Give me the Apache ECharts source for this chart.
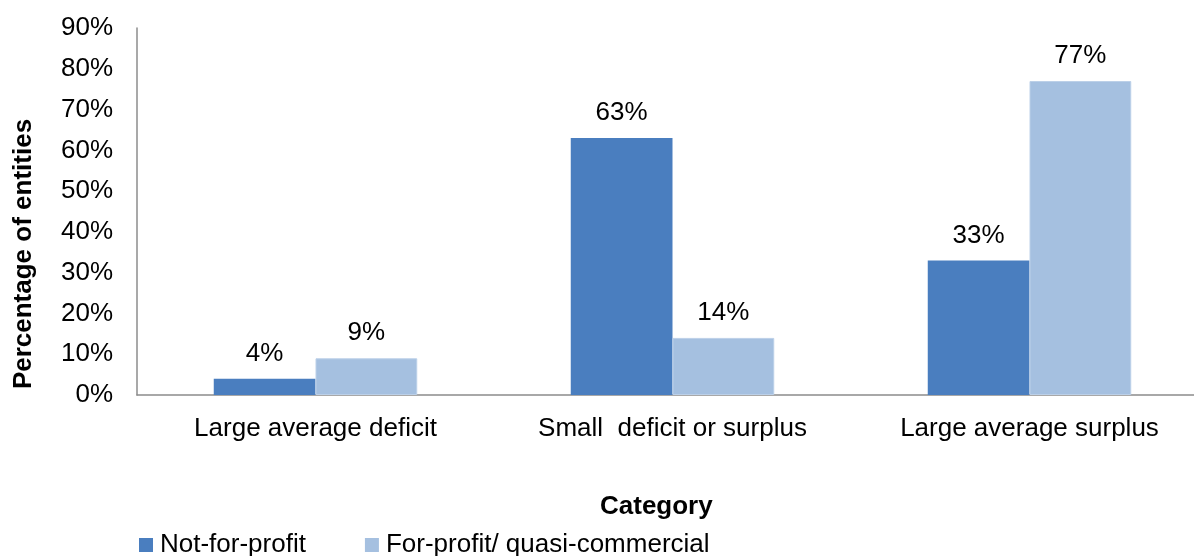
<!DOCTYPE html>
<html>
<head>
<meta charset="utf-8">
<script src="https://cdn.jsdelivr.net/npm/echarts@6/dist/echarts.min.js"></script>
<style>
  html, body { margin: 0; padding: 0; background: #ffffff; }
  #chart { width: 1194px; height: 556px; }
</style>
</head>
<body>
<div id="chart"></div>
<script>
// Share of entities by category of average result
const categories = ['Large average deficit', 'Small  deficit or surplus', 'Large average surplus'];
const notForProfit = [4, 63, 33];
const forProfit = [9, 14, 77];
const seriesNames = ['Not-for-profit', 'For-profit/ quasi-commercial'];
const yTicks = { min: 0, max: 90, interval: 10 };

const FONT = '"Liberation Sans", Arial, sans-serif';
const chart = echarts.init(document.getElementById('chart'));

const labelStyle = {
  show: true,
  position: 'top',
  distance: 12,
  formatter: p => p.value + '%',
  color: '#000',
  fontFamily: FONT,
  fontSize: 26
};

chart.setOption({
  animation: false,
  backgroundColor: '#ffffff',
  grid: {
    left: 137, width: 1071, top: 28, bottom: 161,
    containLabel: false,
    outerBoundsMode: 'none'
  },
  legend: {
    data: seriesNames,
    left: 139,
    top: 532,
    icon: 'rect',
    itemWidth: 14,
    itemHeight: 14,
    itemGap: 59,
    padding: 0,
    itemStyle: { borderWidth: 0 },
    textStyle: { fontFamily: FONT, fontSize: 26, color: '#000', padding: [0, 0, 0, 2] }
  },
  xAxis: {
    type: 'category',
    data: categories,
    axisLine: { lineStyle: { color: '#8c8c8c', width: 1.5 } },
    axisTick: { show: false },
    axisLabel: { color: '#000', fontFamily: FONT, fontSize: 26, margin: 21 }
  },
  yAxis: {
    type: 'value',
    min: yTicks.min,
    max: yTicks.max,
    interval: yTicks.interval,
    axisLine: { show: true, lineStyle: { color: '#8c8c8c', width: 1.5 } },
    axisTick: { show: false },
    splitLine: { show: false },
    axisLabel: { color: '#000', fontFamily: FONT, fontSize: 26, margin: 24, formatter: v => v + '%' }
  },
  graphic: [
    {
      // vertical axis title
      type: 'text',
      x: 24,
      y: 254,
      rotation: Math.PI / 2,
      style: {
        text: 'Percentage of entities',
        font: 'bold 26px ' + FONT,
        fill: '#000',
        align: 'center',
        verticalAlign: 'middle'
      }
    },
    {
      // horizontal axis title
      type: 'text',
      left: 600,
      top: 494,
      style: { text: 'Category', font: 'bold 26px ' + FONT, fill: '#000' }
    }
  ],
  series: [
    {
      name: seriesNames[0],
      type: 'bar',
      data: notForProfit,
      barGap: '0%',
      barCategoryGap: '43%',
      itemStyle: { color: '#4A7EBF' },
      label: labelStyle
    },
    {
      name: seriesNames[1],
      type: 'bar',
      data: forProfit,
      itemStyle: { color: '#A5C0E0', borderColor: '#BCD0E8', borderWidth: 1 },
      label: labelStyle
    }
  ]
});
</script>
</body>
</html>
